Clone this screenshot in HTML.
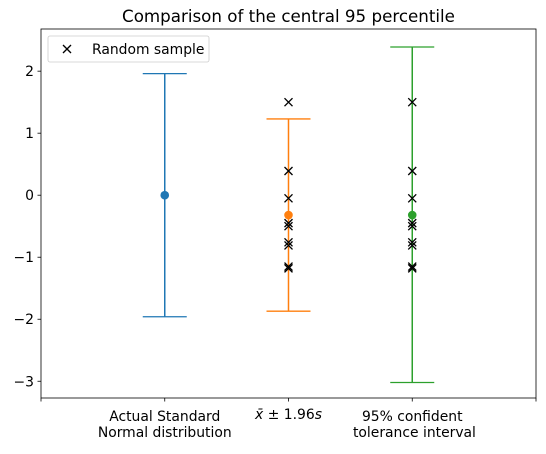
<!DOCTYPE html>
<html><head><meta charset="utf-8"><style>
body{margin:0;background:#fff;font-family:"Liberation Sans","DejaVu Sans",sans-serif}
text{font-family:"DejaVu Sans","Liberation Sans",sans-serif;font-size:13.9px;fill:#000}
</style></head><body>
<svg id="c" width="546" height="449" xmlns="http://www.w3.org/2000/svg"></svg>
<script>
const categories=["Actual Standard\nNormal distribution","x̄ ± 1.96s","95% confident\n tolerance interval"];
const centers=[0,-0.32,-0.32];
const lowers=[-1.96,-1.87,-3.02];
const uppers=[1.96,1.23,2.39];
const colors=["#1f77b4","#ff7f0e","#2ca02c"];
const samples=[1.5,0.39,-0.05,-0.45,-0.5,-0.76,-0.81,-1.15,-1.18];
const yTicks=[2,1,0,-1,-2,-3];
const xTickPos=[0,1,2,3,4];
const L=41,R=536,T=29,B=398,yMin=-3.27,yMax=2.68,xMin=0,xMax=4;
const sx=v=>L+(v-xMin)/(xMax-xMin)*(R-L);
const sy=v=>T+(yMax-v)/(yMax-yMin)*(B-T);
const svg=document.getElementById('c');
const NS="http://www.w3.org/2000/svg";
function mk(tag,attrs,parent){const e=document.createElementNS(NS,tag);for(const k in attrs)e.setAttribute(k,attrs[k]);(parent||svg).appendChild(e);return e;}
let t=mk('text',{x:(L+R)/2,y:22,'text-anchor':'middle'});t.textContent="Comparison of the central 95 percentile";t.style.fontSize="16.7px";


yTicks.forEach(v=>{const g=mk('g',{});


mk('line',{x1:L-3.5,x2:L,y1:sy(v),y2:sy(v),stroke:'#000','stroke-width':0.8},g);
const tx=mk('text',{x:L-7,y:sy(v)+5,'text-anchor':'end'},g);tx.textContent=v<0?'\u2212'+(-v):String(v);});
xTickPos.forEach(v=>{const l=mk('line',{x1:sx(v),x2:sx(v),y1:B,y2:B+3.5,stroke:'#000','stroke-width':0.8});

});
categories.forEach((c,i)=>{const g=mk('g',{});


const lines=c.split('\n');lines.forEach((s,j)=>{const tx=mk('text',{x:sx(i+1),y:421+j*16,'text-anchor':'middle'},g);
if(s.indexOf('x̄')===0){tx.setAttribute('y',419);tx.innerHTML='<tspan font-style="italic">x̄</tspan> ± 1.96<tspan font-style="italic">s</tspan>';}else {tx.textContent=s;tx.setAttribute('xml:space','preserve');tx.style.whiteSpace='pre';}});});
categories.forEach((c,i)=>{const g=mk('g',{});


const x=sx(i+1),col=colors[i];
mk('line',{x1:x,x2:x,y1:sy(uppers[i]),y2:sy(lowers[i]),stroke:col,'stroke-width':1.5},g);
[uppers[i],lowers[i]].forEach(v=>mk('line',{x1:x-22,x2:x+22,y1:sy(v),y2:sy(v),stroke:col,'stroke-width':1.3},g));
mk('circle',{cx:x,cy:sy(centers[i]),r:4.3,fill:col},g);});
[2,3].forEach(p=>samples.forEach(v=>{const g=mk('g',{stroke:'#000','stroke-width':1.3});


const x=sx(p),y=sy(v);mk('line',{x1:x-4,x2:x+4,y1:y-4,y2:y+4},g);mk('line',{x1:x-4,x2:x+4,y1:y+4,y2:y-4},g);}));
const fr=mk('rect',{x:L,y:T,width:R-L,height:B-T,fill:'none',stroke:'#000','stroke-width':0.8});


const lg=mk('g',{});


mk('rect',{x:48,y:36,width:161,height:26,rx:2,fill:'#fff',stroke:'#ccc','stroke-width':0.8},lg);
mk('line',{x1:63,x2:71,y1:45,y2:53,stroke:'#000','stroke-width':1.3},lg);
mk('line',{x1:63,x2:71,y1:53,y2:45,stroke:'#000','stroke-width':1.3},lg);
const lt=mk('text',{x:92,y:54},lg);lt.textContent="Random sample";
</script>
</body></html>
